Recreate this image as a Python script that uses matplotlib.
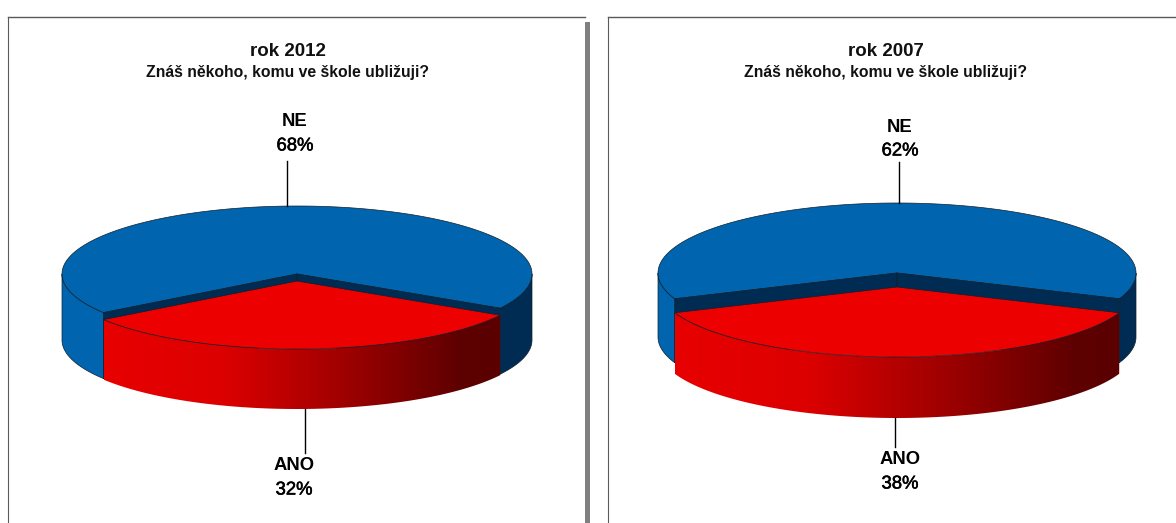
# Znas nekoho, komu ve skole ublizuji? - 3D kolace, rok 2012 a 2007
import numpy as np
import matplotlib
matplotlib.use('Agg')
import matplotlib.pyplot as plt
import matplotlib.patheffects as pe
from matplotlib.colors import LinearSegmentedColormap
from matplotlib.patches import Polygon

plt.rcParams['font.family'] = ['Liberation Sans', 'DejaVu Sans']

# data
years = ['rok 2012', 'rok 2007']
question = 'Znáš někoho, komu ve škole ubližuji?'
ano_shares = [32, 38]
ne_shares = [68, 62]
answer_labels = ['ANO', 'NE']

# rozlozeni v pixelech obrazku
W, H = 1176, 523
panels = [
    dict(cx=297, cy=274, rx=235, ry=68, depth=66, red_drop=7, red_depth=60, red_start=-55.4,
         title_x=288, title_y=51, sub_y=73,
         ne_x=295, ne_y=122, ne_pct_y=146, ne_line_x=287, ne_line_y=161,
         ano_x=294, ano_y=465, ano_pct_y=490, ano_line_x=305, ano_line_y=453,
         frame_left=8, frame_right=585),
    dict(cx=897, cy=273, rx=239, ry=70, depth=64, red_drop=14, red_depth=61, red_start=-68.4,
         title_x=886, title_y=51, sub_y=73,
         ne_x=900, ne_y=127, ne_pct_y=151, ne_line_x=899, ne_line_y=162,
         ano_x=900, ano_y=460, ano_pct_y=484, ano_line_x=894.5, ano_line_y=447,
         frame_left=608, frame_right=1176),
]

BLUE = '#0064AE'
NAVY = '#002B52'
RED = '#EC0000'
EDGE = '#10202c'
wall_cmap = LinearSegmentedColormap.from_list(
    'wall', [(0, '#E80000'), (0.3, '#DC0000'), (0.6, '#A00000'), (0.9, '#5E0000'), (1, '#5A0000')])


def rim(p, t0, t1, drop=0.0):
    # body na okraji elipsy, uhel se pocita od spodku kolace
    t = np.radians(np.linspace(t0, t1, 200))
    return np.column_stack([p['cx'] + p['rx'] * np.sin(t), p['cy'] + drop + p['ry'] * np.cos(t)])


def side_wall(p, t0, t1, top, depth):
    upper = rim(p, t0, t1, top)
    lower = rim(p, t0, t1, top + depth)
    return np.vstack([upper, lower[::-1]])


def draw_pie(ax, p, ano):
    span = ano / 100 * 360
    a0 = p['red_start']
    a1 = a0 + span
    apex = np.array([p['cx'], p['cy']])
    d = p['depth']
    edge = dict(edgecolor=EDGE, linewidth=0.5)

    # vnejsi stena modre casti
    ax.add_patch(Polygon(side_wall(p, -90, a0, 0, d), facecolor=BLUE, **edge))
    ax.add_patch(Polygon(side_wall(p, a1, 90, 0, d), facecolor=NAVY, **edge))

    # horni plocha modre casti
    top = rim(p, a1, 360 + a0)
    ax.add_patch(Polygon(np.vstack([apex, top]), facecolor=BLUE, **edge))

    # vnitrni rezy
    for a in (a0, a1):
        cut = rim(p, a, a, 0)[0]
        quad = [apex, cut, cut + [0, d], apex + [0, d]]
        ax.add_patch(Polygon(quad, facecolor=NAVY, **edge))

    # cervena stena s prechodem
    drop = p['red_drop']
    outline = side_wall(p, a0, a1, drop, p['red_depth'])
    wall = Polygon(outline, facecolor='none', edgecolor='none')
    ax.add_patch(wall)
    grad = np.linspace(0, 1, 256).reshape(1, -1)
    img = ax.imshow(grad, cmap=wall_cmap, aspect='auto', zorder=1.5,
                    extent=[outline[:, 0].min(), outline[:, 0].max(),
                            outline[:, 1].max(), outline[:, 1].min()])
    img.set_clip_path(wall)

    # horni plocha cervene casti
    red_top = np.vstack([apex + [0, drop], rim(p, a0, a1, drop)])
    ax.add_patch(Polygon(red_top, facecolor=RED, zorder=1.7, **edge))


fig = plt.figure(figsize=(W / 100, H / 100), dpi=100)
ax = fig.add_axes([0, 0, 1, 1])
heavier = [pe.withStroke(linewidth=0.4, foreground='black')]

for i, p in enumerate(panels):
    # ramecek grafu
    left, right = p['frame_left'], p['frame_right']
    ax.plot([left, right], [16.5, 16.5], color='#5a5a5a', lw=1.0)
    ax.plot([left, left], [16.5, H], color='#5a5a5a', lw=0.8)
    if i == 0:
        ax.fill_between([right, right + 5], 22, H, color='#808080', lw=0)

    draw_pie(ax, p, ano_shares[i])

    # odkazove cary
    ax.plot([p['ne_line_x']] * 2, [p['ne_line_y'], p['cy'] - p['ry']], color='black', lw=1.0)
    bottom = p['cy'] + p['red_drop'] + p['ry'] + p['red_depth']
    ax.plot([p['ano_line_x']] * 2, [bottom, p['ano_line_y']], color='black', lw=1.0)

    # texty
    ax.text(p['title_x'], p['title_y'], years[i], ha='center', va='center',
            fontsize=13.5, fontweight='bold', color='#111111')
    ax.text(p['title_x'], p['sub_y'], question, ha='center', va='center',
            fontsize=11.3, fontweight='bold', color='#111111')
    ax.text(p['ne_x'], p['ne_y'], answer_labels[1], ha='center', va='center',
            fontsize=13.3, fontweight='bold')
    ax.text(p['ne_x'], p['ne_pct_y'], f'{ne_shares[i]}%', ha='center', va='center',
            fontsize=13.3, path_effects=heavier)
    ax.text(p['ano_x'], p['ano_y'], answer_labels[0], ha='center', va='center',
            fontsize=13.3, fontweight='bold')
    ax.text(p['ano_x'], p['ano_pct_y'], f'{ano_shares[i]}%', ha='center', va='center',
            fontsize=13.3, path_effects=heavier)

ax.set_xlim(0, W)
ax.set_ylim(H, 0)
ax.axis('off')
fig.savefig('out.png', dpi=100, facecolor='white')
